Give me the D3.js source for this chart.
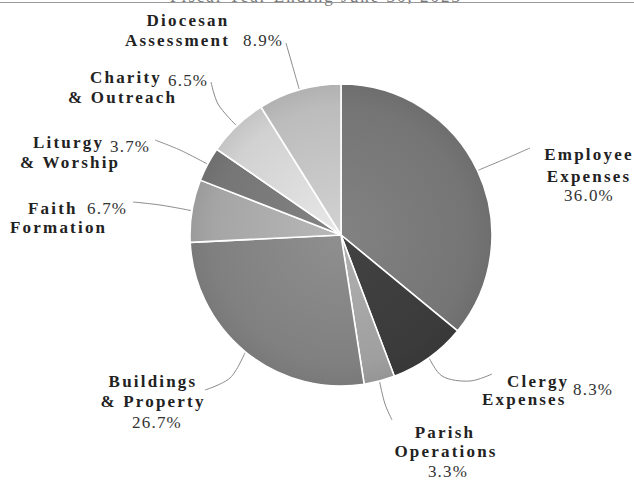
<!DOCTYPE html>
<html>
<head>
<meta charset="utf-8">
<script src="https://cdn.jsdelivr.net/npm/d3@7"></script>
<style>
  html, body { margin: 0; padding: 0; background: #fff; }
  svg { display: block; }
  .lbl { font-family: "Liberation Serif", "DejaVu Serif", serif; fill: #222; }
  .nm { font-weight: bold; font-size: 17px; letter-spacing: 2.2px; }
  .pc { font-weight: normal; font-size: 17px; letter-spacing: 1.2px; fill: #333; }
</style>
</head>
<body>
<svg id="chart" width="634" height="480"></svg>
<script>
// data
var categories = ['Employee Expenses', 'Clergy Expenses', 'Parish Operations', 'Buildings & Property',
  'Faith Formation', 'Liturgy & Worship', 'Charity & Outreach', 'Diocesan Assessment'];
var shares = [36.0, 8.3, 3.3, 26.7, 6.7, 3.7, 6.5, 8.9];
var title = 'Fiscal Year Ending June 30, 2023';

// slice greys (edge tone)
var sliceColors = ['#737373', '#3a3a3a', '#9c9c9c', '#7e7e7e', '#a2a2a2', '#747474', '#cdcdcd', '#b9b9b9'];

// label layout: text pieces (pct piece gets the formatted value) and leader line bends
var labelLayout = [
  { parts: [['Employee', 589, 160, 'middle'], ['Expenses', 589, 182, 'middle'], ['%', 589, 201, 'middle']],
    leader: [[505, 159], [530, 148]] },
  { parts: [['Clergy', 507, 387, 'start'], ['%', 573, 395, 'start'], ['Expenses', 482, 405, 'start']],
    leader: [[442, 376], [470, 381], [492, 374]] },
  { parts: [['Parish', 445, 438, 'middle'], ['Operations', 446, 457, 'middle'], ['%', 448, 477, 'middle']],
    leader: [[385, 404], [392, 420]] },
  { parts: [['Buildings', 153, 387, 'middle'], ['& Property', 153, 407, 'middle'], ['%', 157, 428, 'middle']],
    leader: [[230, 378], [205, 390]] },
  { parts: [['Faith', 28, 214, 'start'], ['%', 87, 214, 'start'], ['Formation', 10, 233, 'start']],
    leader: [[160, 205], [133, 202]] },
  { parts: [['Liturgy', 33, 148, 'start'], ['%', 110, 152, 'start'], ['& Worship', 20, 168, 'start']],
    leader: [[180, 150], [155, 140]] },
  { parts: [['Charity', 90, 83, 'start'], ['%', 168, 86, 'start'], ['& Outreach', 68, 103, 'start']],
    leader: [[218, 104], [211, 82]] },
  { parts: [['Diocesan', 188, 26, 'middle'], ['Assessment', 125, 46, 'start'], ['%', 243, 46, 'start']],
    leader: [[292, 64], [286, 43]] }
];

var cx = 341, cy = 235, radius = 151;
var svg = d3.select('#chart');

// title, clipped at top, with rule
svg.append('text')
  .attr('x', 316).attr('y', 2)
  .attr('text-anchor', 'middle')
  .attr('font-family', '"Liberation Serif", serif')
  .attr('font-size', 17)
  .attr('letter-spacing', 2)
  .attr('fill', '#777')
  .text(title);
svg.append('line')
  .attr('x1', 0).attr('x2', 634).attr('y1', 2.5).attr('y2', 2.5)
  .attr('stroke', '#999').attr('stroke-width', 1);

var pie = d3.pie().sort(null).value(function (d) { return d; });
var arcs = pie(shares);
var arc = d3.arc().innerRadius(0).outerRadius(radius);

var defs = svg.append('defs');
sliceColors.forEach(function (c, i) {
  var grad = defs.append('radialGradient')
    .attr('id', 'g' + i)
    .attr('gradientUnits', 'userSpaceOnUse')
    .attr('cx', 0).attr('cy', 0).attr('r', radius);
  grad.append('stop').attr('offset', '0%').attr('stop-color', d3.color(c).brighter(0.35));
  grad.append('stop').attr('offset', '85%').attr('stop-color', d3.color(c).brighter(0.05));
  grad.append('stop').attr('offset', '100%').attr('stop-color', d3.color(c).darker(0.12));
});

var g = svg.append('g').attr('transform', 'translate(' + cx + ',' + cy + ')');

g.selectAll('path.slice')
  .data(arcs)
  .join('path')
  .attr('class', 'slice')
  .attr('d', arc)
  .attr('fill', function (d, i) { return 'url(#g' + i + ')'; })
  .attr('stroke', '#fff')
  .attr('stroke-width', 1.6)
  .attr('stroke-linejoin', 'round');

// leader lines
var leaderLine = d3.line().curve(d3.curveCatmullRom.alpha(0.5));
arcs.forEach(function (a, i) {
  var mid = (a.startAngle + a.endAngle) / 2;
  var start = [cx + (radius + 1) * Math.sin(mid), cy - (radius + 1) * Math.cos(mid)];
  var pts = [start].concat(labelLayout[i].leader);
  svg.append('path')
    .attr('d', leaderLine(pts))
    .attr('fill', 'none')
    .attr('stroke', '#8a8a8a')
    .attr('stroke-width', 1);
});

// labels
var fmt = d3.format('.1f');
labelLayout.forEach(function (lay, i) {
  lay.parts.forEach(function (p) {
    var isPct = p[0] === '%';
    svg.append('text')
      .attr('class', 'lbl ' + (isPct ? 'pc' : 'nm'))
      .attr('x', p[1]).attr('y', p[2])
      .attr('text-anchor', p[3])
      .text(isPct ? fmt(shares[i]) + '%' : p[0]);
  });
});
</script>
</body>
</html>
